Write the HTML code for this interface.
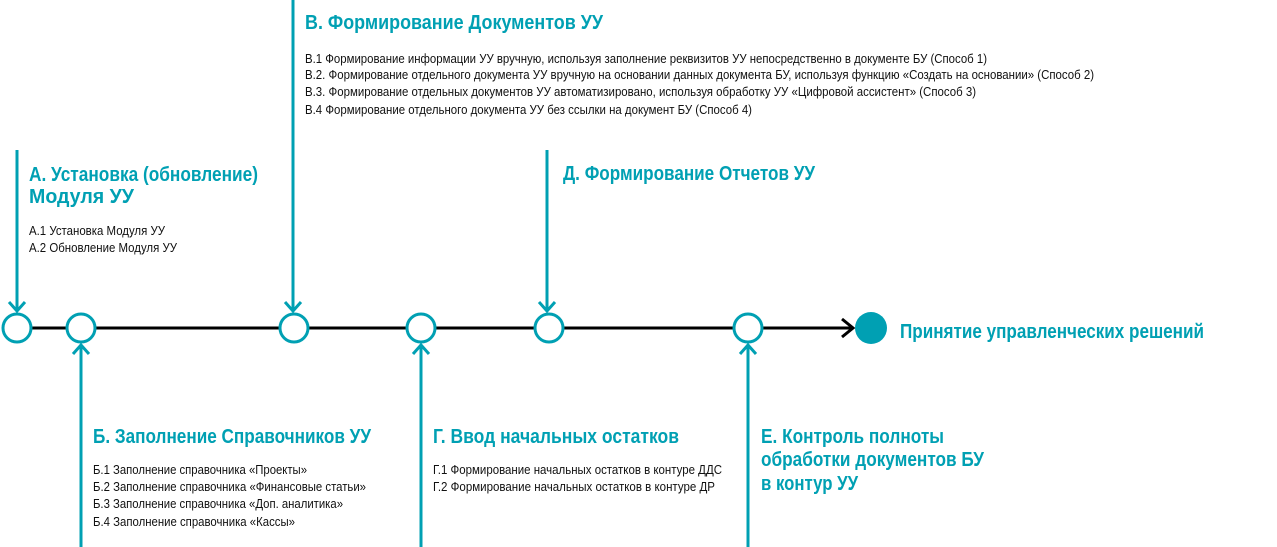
<!DOCTYPE html>
<html><head><meta charset="utf-8"><style>
html,body{margin:0;padding:0;background:#fff;width:1277px;height:547px;overflow:hidden}
svg{display:block}
.h{font-family:"Liberation Sans",sans-serif;font-weight:bold;font-size:20px;fill:#00a0b3}
.s{font-family:"Liberation Sans",sans-serif;font-size:12.5px;fill:#111}
</style></head><body>
<svg width="1277" height="547" viewBox="0 0 1277 547" xmlns="http://www.w3.org/2000/svg">
<g stroke="#000" stroke-width="3" fill="none">
<line x1="31" y1="328" x2="852" y2="328"/>
<polyline points="842,319 853,328 842,337"/>
</g>
<g stroke="#00a0b3" stroke-width="3" fill="none">
<line x1="17" y1="150" x2="17" y2="311"/>
<polyline points="9,302 17,311 25,302"/>
<line x1="293" y1="0" x2="293" y2="311"/>
<polyline points="285,302 293,311 301,302"/>
<line x1="547" y1="150" x2="547" y2="311"/>
<polyline points="539,302 547,311 555,302"/>
<line x1="81" y1="547" x2="81" y2="345"/>
<polyline points="73,354 81,345 89,354"/>
<line x1="421" y1="547" x2="421" y2="345"/>
<polyline points="413,354 421,345 429,354"/>
<line x1="748" y1="547" x2="748" y2="345"/>
<polyline points="740,354 748,345 756,354"/>
</g>
<g stroke="#00a0b3" stroke-width="3" fill="#fff">
<circle cx="17" cy="328" r="14"/>
<circle cx="81" cy="328" r="14"/>
<circle cx="294" cy="328" r="14"/>
<circle cx="421" cy="328" r="14"/>
<circle cx="549" cy="328" r="14"/>
<circle cx="748" cy="328" r="14"/>
</g>
<circle cx="871" cy="328" r="16" fill="#00a0b3"/>
<text class="h" x="900" y="338" textLength="304" lengthAdjust="spacingAndGlyphs">Принятие управленческих решений</text>

<text class="h" x="29" y="181" textLength="229" lengthAdjust="spacingAndGlyphs">А. Установка (обновление)</text>
<text class="h" x="29" y="203" textLength="105" lengthAdjust="spacingAndGlyphs">Модуля УУ</text>
<text class="s" x="29" y="235" textLength="136" lengthAdjust="spacingAndGlyphs">А.1 Установка Модуля УУ</text>
<text class="s" x="29" y="252" textLength="148" lengthAdjust="spacingAndGlyphs">А.2 Обновление Модуля УУ</text>

<text class="h" x="305" y="29" textLength="298" lengthAdjust="spacingAndGlyphs">В. Формирование Документов УУ</text>
<text class="s" x="305" y="63" textLength="682" lengthAdjust="spacingAndGlyphs">В.1 Формирование информации УУ вручную, используя заполнение реквизитов УУ непосредственно в документе БУ (Способ 1)</text>
<text class="s" x="305" y="79" textLength="789" lengthAdjust="spacingAndGlyphs">В.2. Формирование отдельного документа УУ вручную на основании данных документа БУ, используя функцию «Создать на основании» (Способ 2)</text>
<text class="s" x="305" y="96" textLength="671" lengthAdjust="spacingAndGlyphs">В.3. Формирование отдельных документов УУ автоматизировано, используя обработку УУ «Цифровой ассистент» (Способ 3)</text>
<text class="s" x="305" y="114" textLength="447" lengthAdjust="spacingAndGlyphs">В.4 Формирование отдельного документа УУ без ссылки на документ БУ (Способ 4)</text>

<text class="h" x="563" y="180" textLength="252" lengthAdjust="spacingAndGlyphs">Д. Формирование Отчетов УУ</text>

<text class="h" x="93" y="443" textLength="278" lengthAdjust="spacingAndGlyphs">Б. Заполнение Справочников УУ</text>
<text class="s" x="93" y="474" textLength="214" lengthAdjust="spacingAndGlyphs">Б.1 Заполнение справочника «Проекты»</text>
<text class="s" x="93" y="491" textLength="273" lengthAdjust="spacingAndGlyphs">Б.2 Заполнение справочника «Финансовые статьи»</text>
<text class="s" x="93" y="508" textLength="250" lengthAdjust="spacingAndGlyphs">Б.3 Заполнение справочника «Доп. аналитика»</text>
<text class="s" x="93" y="526" textLength="202" lengthAdjust="spacingAndGlyphs">Б.4 Заполнение справочника «Кассы»</text>

<text class="h" x="433" y="443" textLength="246" lengthAdjust="spacingAndGlyphs">Г. Ввод начальных остатков</text>
<text class="s" x="433" y="474" textLength="289" lengthAdjust="spacingAndGlyphs">Г.1 Формирование начальных остатков в контуре ДДС</text>
<text class="s" x="433" y="491" textLength="282" lengthAdjust="spacingAndGlyphs">Г.2 Формирование начальных остатков в контуре ДР</text>

<text class="h" x="761" y="443" textLength="183" lengthAdjust="spacingAndGlyphs">Е. Контроль полноты</text>
<text class="h" x="761" y="466" textLength="223" lengthAdjust="spacingAndGlyphs">обработки документов БУ</text>
<text class="h" x="761" y="490" textLength="97" lengthAdjust="spacingAndGlyphs">в контур УУ</text>
</svg>
</body></html>
